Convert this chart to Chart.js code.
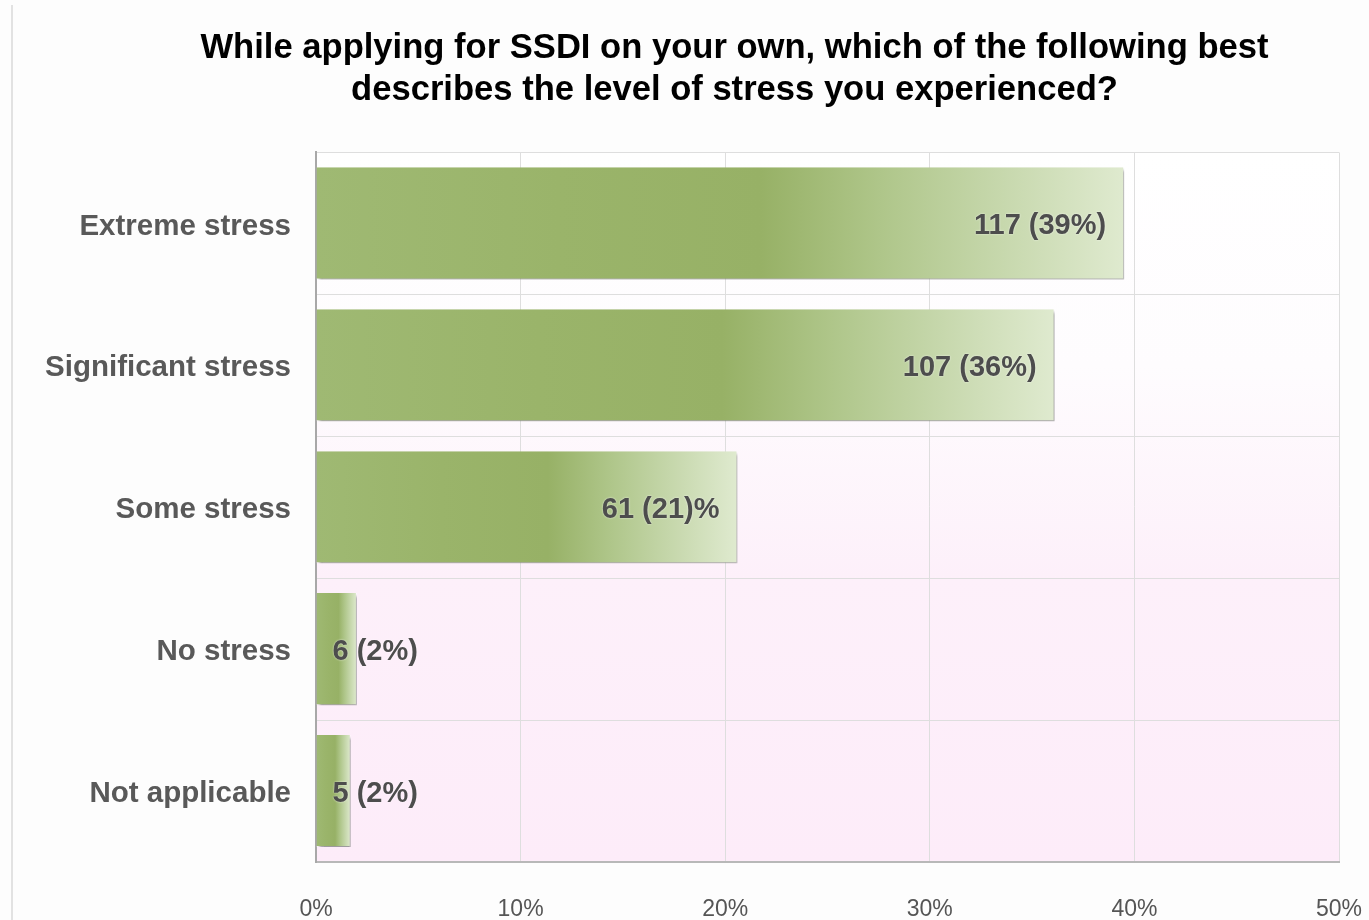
<!DOCTYPE html>
<html>
<head>
<meta charset="utf-8">
<script src="https://cdn.jsdelivr.net/npm/chart.js@4"></script>
<style>
  html, body { margin: 0; padding: 0; background: #fdfdfd; }
  #wrap { width: 1369px; height: 920px; position: relative; }
</style>
</head>
<body>
<div id="wrap"><canvas id="c" width="1369" height="920"></canvas></div>
<script>
const titleLines = [
  'While applying for SSDI on your own, which of the following best',
  'describes the level of stress you experienced?'
];
const categories = ['Extreme stress', 'Significant stress', 'Some stress', 'No stress', 'Not applicable'];
const percentages = [39.5, 36.1, 20.6, 2.0, 1.7];
const valueLabels = ['117 (39%)', '107 (36%)', '61 (21)%', '6 (2%)', '5 (2%)'];
const axisMax = 50;
const axisStep = 10;

const FONT = '"Liberation Sans", Arial, sans-serif';

const bgPlugin = {
  id: 'bgPlugin',
  afterLayout(chart) {
    // centre the title over x = 734 like the original
    if (chart.titleBlock) {
      chart.titleBlock.left = 100;
      chart.titleBlock.right = chart.width;
    }
  },
  beforeDraw(chart) {
    const { ctx, chartArea: a } = chart;
    ctx.save();
    ctx.fillStyle = '#fdfdfd';
    ctx.fillRect(0, 0, chart.width, chart.height);
    ctx.strokeStyle = '#e2e2e2';
    ctx.lineWidth = 2;
    ctx.beginPath();
    ctx.moveTo(12, 5);
    ctx.lineTo(12, chart.height);
    ctx.stroke();
    const g = ctx.createLinearGradient(0, a.top, 0, a.bottom);
    g.addColorStop(0, '#ffffff');
    g.addColorStop(0.3, '#fefcfe');
    g.addColorStop(0.6, '#fdf0fa');
    g.addColorStop(1, '#fdecf9');
    ctx.fillStyle = g;
    ctx.fillRect(a.left, a.top, a.right - a.left, a.bottom - a.top);
    ctx.restore();
  }
};

const shadowPlugin = {
  id: 'shadowPlugin',
  beforeDatasetsDraw(chart) {
    const ctx = chart.ctx;
    ctx.save();
    ctx.shadowColor = 'rgba(0,0,0,0.38)';
    ctx.shadowBlur = 3;
    ctx.shadowOffsetX = 2;
    ctx.shadowOffsetY = 3;
  },
  afterDatasetsDraw(chart) {
    chart.ctx.restore();
  }
};

const labelPlugin = {
  id: 'labelPlugin',
  afterDatasetsDraw(chart) {
    const ctx = chart.ctx;
    const meta = chart.getDatasetMeta(0);
    ctx.save();
    ctx.font = 'bold 29px ' + FONT;
    ctx.fillStyle = '#4d4d4d';
    ctx.textBaseline = 'middle';
    ctx.shadowColor = 'rgba(255,255,255,0.8)';
    ctx.shadowBlur = 2;
    meta.data.forEach((bar, i) => {
      const txt = valueLabels[i];
      const w = ctx.measureText(txt).width;
      const inner = bar.x - bar.base;
      if (w + 36 < inner) {
        ctx.textAlign = 'right';
        ctx.fillText(txt, bar.x - 18, bar.y + 3);
      } else {
        ctx.textAlign = 'left';
        ctx.fillText(txt, bar.base + 16, bar.y + 3);
      }
    });
    ctx.restore();
  }
};

function barGradient(context) {
  const chart = context.chart;
  const xs = chart.scales.x;
  if (!xs || context.type !== 'data') return '#9ab46a';
  const x0 = xs.getPixelForValue(0);
  const x1 = xs.getPixelForValue(context.parsed.x);
  if (!isFinite(x0) || !isFinite(x1) || x1 <= x0) return '#9ab46a';
  const g = chart.ctx.createLinearGradient(x0, 0, x1, 0);
  g.addColorStop(0, '#9fb973');
  g.addColorStop(0.3, '#9ab46a');
  g.addColorStop(0.55, '#97b166');
  g.addColorStop(0.7, '#afc68a');
  g.addColorStop(0.85, '#c7d8ad');
  g.addColorStop(1, '#dfeacf');
  return g;
}

new Chart(document.getElementById('c'), {
  type: 'bar',
  data: {
    labels: categories,
    datasets: [{
      data: percentages,
      backgroundColor: barGradient,
      borderColor: 'rgba(255,255,255,0.7)',
      borderWidth: { top: 0, left: 0, right: 1, bottom: 1 },
      borderSkipped: false,
      barPercentage: 0.79,
      categoryPercentage: 1.0
    }]
  },
  options: {
    indexAxis: 'y',
    responsive: false,
    animation: false,
    events: [],
    layout: { padding: { left: 0, right: 30, top: 0, bottom: 0 } },
    plugins: {
      legend: { display: false },
      tooltip: { enabled: false },
      title: {
        display: true,
        text: titleLines,
        color: '#000000',
        font: { family: FONT, size: 34.6, weight: 'bold', lineHeight: 1.22 },
        padding: { top: 27, bottom: 41 }
      }
    },
    scales: {
      x: {
        min: 0,
        max: axisMax,
        ticks: {
          stepSize: axisStep,
          callback: v => v + '%',
          color: '#555555',
          font: { family: FONT, size: 23 },
          padding: 34,
          maxRotation: 0
        },
        grid: { color: '#dedede', lineWidth: 1, drawTicks: false },
        border: { color: '#b8b8b8', width: 2 },
        afterFit(scale) {
          scale.height = 58;
          scale.paddingLeft = 0;
          scale.paddingRight = 0;
        }
      },
      y: {
        ticks: {
          color: '#595959',
          font: { family: FONT, size: 29.5, weight: 'bold' },
          padding: 25,
          labelOffset: 3
        },
        grid: { color: '#dedede', lineWidth: 1, drawTicks: false },
        border: { color: '#a8a8a8', width: 2 },
        afterFit(scale) { scale.width = 316; }
      }
    }
  },
  plugins: [bgPlugin, shadowPlugin, labelPlugin]
});
</script>
</body>
</html>
